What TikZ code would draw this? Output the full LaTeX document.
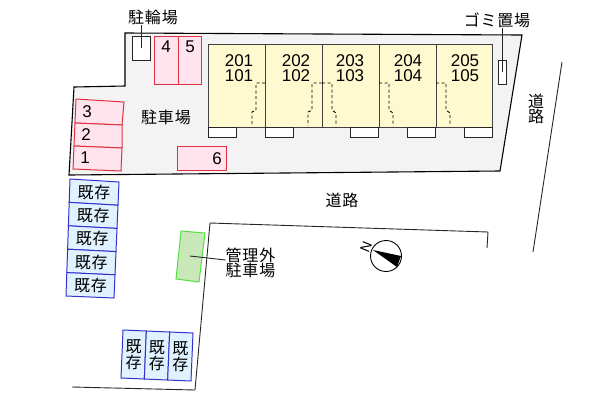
\documentclass[tikz,border=0pt]{standalone}
\usepackage{fontspec}
\setmainfont{Liberation Sans}
\newfontfamily\jpfont[LetterSpace=5]{Noto Sans CJK JP}
\usetikzlibrary{calc}
\definecolor{P}{RGB}{243,243,243}
\definecolor{C}{RGB}{255,249,208}
\definecolor{R}{RGB}{255,228,238}
\definecolor{RL}{RGB}{224,48,64}
\definecolor{S}{RGB}{224,242,255}
\definecolor{SL}{RGB}{51,51,204}
\definecolor{K}{RGB}{201,232,186}
\definecolor{KL}{RGB}{85,221,68}
\tikzstyle{wall} = [draw=black,line width=1.1pt,line join=miter]
\tikzstyle{road} = [draw=black!85,line width=0.9pt]
\tikzstyle{unit} = [draw=black!75,line width=0.9pt,fill=C]
\tikzstyle{porch} = [draw=black!85,line width=0.9pt,fill=white]
\tikzstyle{door} = [draw=black,line width=0.9pt,dash pattern=on 3pt off 2.5pt]
\tikzstyle{park} = [draw=RL,line width=1pt,fill=R]
\tikzstyle{old} = [draw=SL,line width=1pt,fill=S]
\tikzstyle{num} = [inner sep=0pt,font=\fontsize{17}{14.5}\selectfont,align=center]
\tikzstyle{jp} = [inner sep=0pt,font=\jpfont\fontsize{16}{15.5}\selectfont,align=center]
\begin{document}
\begin{tikzpicture}[x=1pt,y=-1pt]
        \useasboundingbox (0,0) rectangle (600,400);
        % site
        \path[wall,fill=P] (125,33) -- (522,35) -- (500,171) -- (69,175) -- (74,87) -- (125,86) -- cycle;
        % building
        \foreach \X [count=\Y,remember=\X as \LastX (initially 208)] in {265,322,379,436,492}
          {\draw[unit] (\LastX,44) rectangle (\X,127);}
        \foreach \X in {208,265,350,407,464}
          {\draw[porch] (\X,127) rectangle ++(28.5,10);}
        \foreach \X/\T/\B [count=\Y] in {239/201/101,296/202/102,350/203/103,408/204/104,465/205/105}
          {\node[num] (room-\Y) at (\X,68) {\T\\\B};}
        \draw[door] (265,83) -- (256,83) -- (256,110) -- (252,112) -- (252,126);
        \draw[door] (322,83) -- (312,83) -- (312,110) -- (308,112) -- (308,126);
        \foreach \X in {322,379,436}
          {\draw[door] (\X,83) -- ++(10,0) -- ++(0,27) -- ++(4,3) -- ++(0,13);}
        % parking
        \draw[park] (154,36.5) rectangle (178,84);
        \draw[park] (178,36.5) rectangle (201,84);
        \draw[park] (177,146) rectangle (226,170);
        \draw[park] (76,99) -- (124,102) -- (122,125) -- (75,123) -- cycle;
        \draw[park] (75,123) -- (122,125) -- (122,148) -- (74,146) -- cycle;
        \draw[park] (74,146) -- (122,148) -- (121,171) -- (73,169) -- cycle;
        \foreach \X/\V/\T in {166/47/4,190/47/5,87/112/3,86/135/2,85/158/1,217/159/6}
          {\node[num] (lot-\T) at (\X,\V) {\T};}
        % bike and rubbish
        \draw[porch,fill=white] (132,36) rectangle (150,60);
        \draw[porch,fill=white] (498,60) rectangle (506,84);
        \node[jp] (bike) at (153,17) {駐輪場};
        \node[jp] (gomi) at (497,20) {ゴミ置場};
        \coordinate (bike-end) at (141,48);
        \coordinate (gomi-end) at (502,72);
        \draw[road] (bike-end |- bike.south) -- (bike-end);
        \draw[road] (gomi-end |- gomi.south) -- (gomi-end);
        \node[jp] (lot) at (166,117) {駐車場};
        % roads
        \draw[road] (562,62) -- (533,252);
        \draw[road] (72,387) -- (195,390) -- (210,223) -- (488,232) -- (487,248);
        \node[jp] (road-a) at (342,200) {道路};
        \node[jp] (road-b) at (536,109) {道\\路};
        % outside lot
        \draw[draw=KL,line width=1pt,fill=K] (181,231) -- (205,233) -- (199,282) -- (176,279) -- cycle;
        \node[jp] (outer) at (250.5,263) {管理外\\駐車場};
        \coordinate (outer-end) at (190,256);
        \draw[road] ([yshift=3pt]outer.west) -- (outer-end);
        % existing
        \coordinate (a) at (70,179);
        \coordinate (b) at (119,182);
        \coordinate (c) at (66,296);
        \coordinate (d) at (114,298);
        \foreach \Y [remember=\Y as \LastY (initially 0)] in {1,...,5}
          {\draw[old] ($(a)!\LastY/5!(c)$) -- ($(b)!\LastY/5!(d)$) -- ($(b)!\Y/5!(d)$) -- ($(a)!\Y/5!(c)$) -- cycle;
          \node[jp] (old-\Y) at ($($(a)!\Y/5-0.1!(c)$)!0.5!($(b)!\Y/5-0.1!(d)$)$) {既存};}
        \coordinate (e) at (123,330);
        \coordinate (f) at (193,333);
        \coordinate (g) at (121,378);
        \coordinate (h) at (191,381);
        \foreach \Y [remember=\Y as \LastY (initially 0)] in {1,2,3}
          {\draw[old] ($(e)!\LastY/3!(f)$) -- ($(e)!\Y/3!(f)$) -- ($(g)!\Y/3!(h)$) -- ($(g)!\LastY/3!(h)$) -- cycle;
          \node[jp] (row-\Y) at ($($(e)!\Y/3-0.167!(f)$)!0.5!($(g)!\Y/3-0.167!(h)$)$) {既\\存};}
        % north mark
        \node[circle,draw,line width=0.9pt,minimum size=31pt,inner sep=0pt] (north) at (386,256) {};
        \fill (373,250) -- (401,256) -- (397,267) -- cycle;
        \node[inner sep=0pt,rotate=68,font=\fontsize{14}{14}\selectfont] (north-n) at (366,247) {N};
      \end{tikzpicture}
\end{document}
